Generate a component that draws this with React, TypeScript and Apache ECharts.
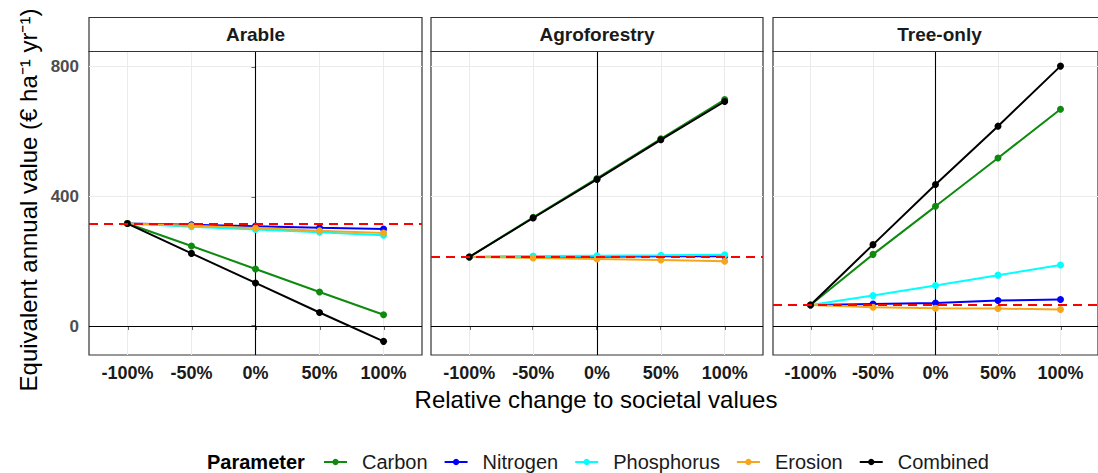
import React, { useEffect, useRef } from 'react';
import * as echarts from 'echarts';

// Relative change applied to the societal values (x axis)
const changeValues = [-100, -50, 0, 50, 100];
const changeLabels = ['-100%', '-50%', '0%', '50%', '100%'];

const panels = ['Arable', 'Agroforestry', 'Tree-only'];
const parameters = ['Carbon', 'Nitrogen', 'Phosphorus', 'Erosion', 'Combined'];
const parameterColors = ['#0E8A0E', '#0000FF', '#00FFFF', '#F4A71D', '#000000'];

// Equivalent annual value (€ ha-1 yr-1) – Arable
const arableCarbon = [316, 247, 176, 105, 35];
const arableNitrogen = [316, 312, 308, 303, 299];
const arablePhosphorus = [316, 306, 298, 289, 280];
const arableErosion = [316, 309, 302, 294, 287];
const arableCombined = [316, 224, 133, 42, -47];
const arableBaseline = 316;

// Agroforestry
const agroCarbon = [213, 335, 455, 577, 698];
const agroNitrogen = [213, 214, 214, 215, 215];
const agroPhosphorus = [213, 216, 217, 218, 220];
const agroErosion = [213, 210, 207, 204, 200];
const agroCombined = [213, 333, 452, 574, 692];
const agroBaseline = 213;

// Tree-only
const treeCarbon = [65, 221, 369, 518, 668];
const treeNitrogen = [65, 68, 71, 79, 82];
const treePhosphorus = [65, 94, 125, 157, 188];
const treeErosion = [65, 58, 55, 54, 51];
const treeCombined = [65, 251, 436, 616, 801];
const treeBaseline = 65;

const yTicks = [0, 400, 800];

const panelSeries = [
  [arableCarbon, arableNitrogen, arablePhosphorus, arableErosion, arableCombined],
  [agroCarbon, agroNitrogen, agroPhosphorus, agroErosion, agroCombined],
  [treeCarbon, treeNitrogen, treePhosphorus, treeErosion, treeCombined],
];
const baselines = [arableBaseline, agroBaseline, treeBaseline];

const FONT = '"Liberation Sans", Arial, Helvetica, sans-serif';
const panelLeft = [89, 431, 773];
const panelWidth = [333, 332, 333];
const plotTop = 51.5;
const plotHeight = 303.5;
const stripTop = 17.5;
const stripHeight = 34;

function buildOption() {
  const grid = panels.map((_, p) => ({
    left: panelLeft[p],
    top: plotTop,
    width: panelWidth[p],
    height: plotHeight,
    show: true,
    borderColor: '#333333',
    borderWidth: 1.2,
    backgroundColor: 'transparent',
  }));

  const xAxis = panels.map((_, p) => ({
    type: 'value',
    gridIndex: p,
    min: -130,
    max: 130,
    axisLine: { show: false },
    splitLine: { show: false },
    axisTick: {
      show: true,
      customValues: changeValues,
      length: 4,
      lineStyle: { color: '#333333', width: 1.5 },
    },
    axisLabel: {
      customValues: changeValues,
      formatter: (v: number) => changeLabels[changeValues.indexOf(v)] ?? '',
      fontWeight: 'bold',
      fontSize: 18,
      fontFamily: FONT,
      color: '#1A1A1A',
      margin: 9,
    },
  }));

  const yAxis = panels.map((_, p) => ({
    type: 'value',
    gridIndex: p,
    min: -89,
    max: 846,
    axisLine: { show: false },
    splitLine: { show: false },
    axisTick: {
      show: p === 0,
      customValues: yTicks,
      length: 4,
      lineStyle: { color: '#333333', width: 1.5 },
    },
    axisLabel: {
      show: p === 0,
      customValues: yTicks,
      fontWeight: 'bold',
      fontSize: 17,
      fontFamily: FONT,
      color: '#4D4D4D',
      margin: 10,
    },
  }));

  const series: any[] = [];
  panels.forEach((panel, p) => {
    // Background grid and the zero reference lines
    series.push({
      type: 'line',
      name: `grid-${panel}`,
      xAxisIndex: p,
      yAxisIndex: p,
      data: [],
      silent: true,
      markLine: {
        silent: true,
        z: 1,
        symbol: 'none',
        animation: false,
        label: { show: false },
        data: [
          ...yTicks
            .filter((v) => v !== 0)
            .map((v) => ({ yAxis: v, lineStyle: { color: '#EBEBEB', width: 1, type: 'solid' } })),
          ...changeValues
            .filter((v) => v !== 0)
            .map((v) => ({ xAxis: v, lineStyle: { color: '#EBEBEB', width: 1, type: 'solid' } })),
          { yAxis: 0, lineStyle: { color: '#000000', width: 1.1, type: 'solid' } },
          { xAxis: 0, lineStyle: { color: '#000000', width: 1.1, type: 'solid' } },
        ],
      },
    });

    panelSeries[p].forEach((values, k) => {
      series.push({
        type: 'line',
        name: parameters[k],
        xAxisIndex: p,
        yAxisIndex: p,
        z: 3 + k,
        data: values.map((v, i) => [changeValues[i], v]),
        color: parameterColors[k],
        lineStyle: { width: 2, color: parameterColors[k] },
        itemStyle: { color: parameterColors[k] },
        symbol: 'circle',
        symbolSize: 7,
        showSymbol: true,
      });
    });

    // Current (unchanged) value of the system
    series.push({
      type: 'line',
      name: `baseline-${panel}`,
      xAxisIndex: p,
      yAxisIndex: p,
      data: [],
      silent: true,
      markLine: {
        silent: true,
        z: 20,
        symbol: 'none',
        animation: false,
        label: { show: false },
        data: [{ yAxis: baselines[p] }],
        lineStyle: { color: '#FF0000', width: 2, type: [9, 6] },
      },
    });
  });

  const graphic: any[] = [];
  panels.forEach((panel, p) => {
    graphic.push({
      type: 'rect',
      shape: { x: panelLeft[p], y: stripTop, width: panelWidth[p], height: stripHeight },
      style: { fill: '#FFFFFF', stroke: '#333333', lineWidth: 1.2 },
      z: 10,
    });
    graphic.push({
      type: 'text',
      x: panelLeft[p] + panelWidth[p] / 2,
      y: stripTop + stripHeight / 2,
      style: {
        text: panel,
        fontFamily: FONT,
        fontSize: 19,
        fontWeight: 'bold',
        fill: '#1A1A1A',
        align: 'center',
        verticalAlign: 'middle',
      },
      z: 11,
    });
  });

  graphic.push({
    type: 'text',
    x: 28,
    y: 200,
    rotation: Math.PI / 2,
    style: {
      text: 'Equivalent annual value (€ ha⁻¹ yr⁻¹)',
      fontFamily: FONT,
      fontSize: 24,
      fill: '#000000',
      align: 'center',
      verticalAlign: 'middle',
    },
  });
  graphic.push({
    type: 'text',
    x: 596,
    y: 399,
    style: {
      text: 'Relative change to societal values',
      fontFamily: FONT,
      fontSize: 24,
      fill: '#000000',
      align: 'center',
      verticalAlign: 'middle',
    },
  });
  graphic.push({
    type: 'text',
    x: 207,
    y: 462,
    style: {
      text: 'Parameter',
      fontFamily: FONT,
      fontSize: 20,
      fontWeight: 'bold',
      fill: '#000000',
      align: 'left',
      verticalAlign: 'middle',
    },
  });

  return {
    animation: false,
    backgroundColor: '#FFFFFF',
    grid,
    xAxis,
    yAxis,
    series,
    graphic,
    legend: {
      data: parameters,
      left: 323,
      top: 452,
      padding: 0,
      itemWidth: 23,
      itemHeight: 8,
      itemGap: 16,
      selectedMode: false,
      formatter: (name: string) => `\u2002${name}`,
      textStyle: {
        fontFamily: FONT,
        fontSize: 20,
        color: '#1A1A1A',
      },
    },
  };
}

export default function App() {
  const ref = useRef<HTMLDivElement>(null);
  useEffect(() => {
    if (!ref.current) return;
    const chart = echarts.init(ref.current, undefined, { renderer: 'svg' });
    chart.setOption(buildOption() as any);
    return () => chart.dispose();
  }, []);
  return (
    <div
      ref={ref}
      style={{ position: 'absolute', left: 0, top: 0, width: 1098, height: 473 }}
    />
  );
}
